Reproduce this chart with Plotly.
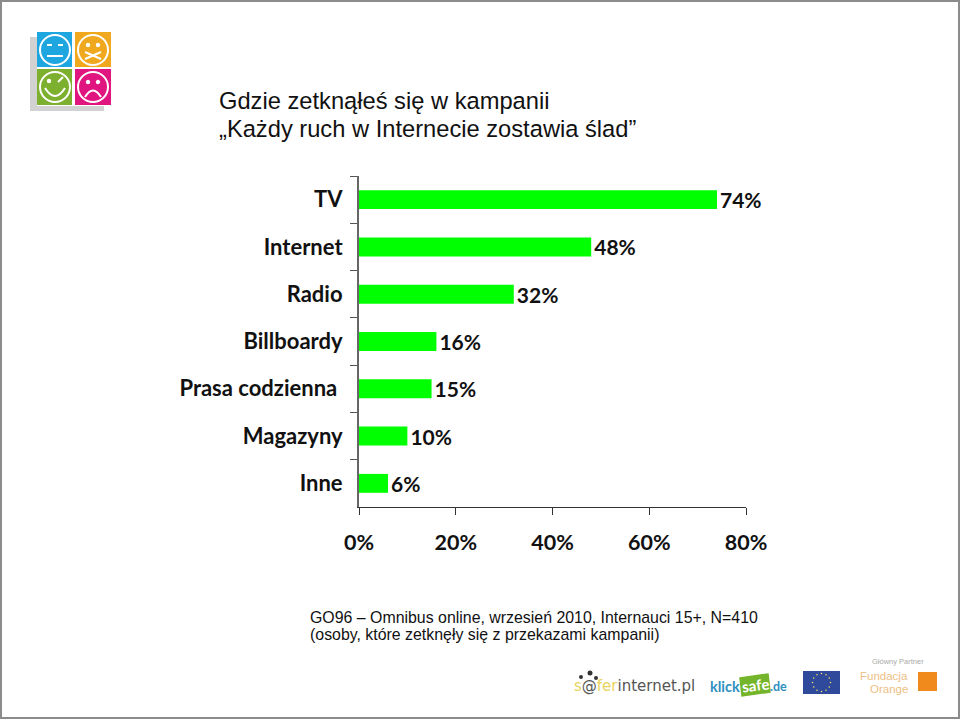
import plotly.graph_objects as go
import math

categories = ["TV", "Internet", "Radio", "Billboardy", "Prasa codzienna\u00a0", "Magazyny", "Inne"]
values = [74, 48, 32, 16, 15, 10, 6]
value_labels = ["74%", "48%", "32%", "16%", "15%", "10%", "6%"]
x_ticks = [0, 20, 40, 60, 80]
x_tick_labels = ["0%", "20%", "40%", "60%", "80%"]

title_lines = ["Gdzie zetknąłeś się w kampanii", "„Każdy ruch w Internecie zostawia ślad”"]
source_lines = ["GO96 – Omnibus online, wrzesień 2010, Internauci 15+, N=410",
                "(osoby, które zetknęły się z przekazami kampanii)"]

W, H = 960, 720
def X(p): return p / W
def Y(p): return 1 - p / H

fig = go.Figure(go.Bar(
    y=categories, x=values, orientation="h",
    marker=dict(color="#00FF00", line=dict(width=0)),
    text=value_labels, textposition="outside", cliponaxis=False, constraintext="none",
    textfont=dict(family="Lato", size=21, color="#111111", weight="bold"),
))

shapes = []
annos = []

def rect(x0, y0, x1, y1, fill, line=None, lw=0):
    shapes.append(dict(type="rect", xref="paper", yref="paper", x0=X(x0), x1=X(x1), y0=Y(y1), y1=Y(y0),
                       fillcolor=fill, line=dict(color=line or fill, width=lw), layer="above"))
def circ(cx, cy, r, fill="rgba(0,0,0,0)", line="white", lw=2):
    shapes.append(dict(type="circle", xref="paper", yref="paper", x0=X(cx-r), x1=X(cx+r), y0=Y(cy+r), y1=Y(cy-r),
                       fillcolor=fill, line=dict(color=line, width=lw), layer="above"))
def seg(x0, y0, x1, y1, color="white", lw=2):
    shapes.append(dict(type="line", xref="paper", yref="paper", x0=X(x0), x1=X(x1), y0=Y(y0), y1=Y(y1),
                       line=dict(color=color, width=lw), layer="above"))
def curve(x0, y0, cx, cy, x1, y1, color="white", lw=2):
    p = f"M {X(x0)} {Y(y0)} Q {X(cx)} {Y(cy)} {X(x1)} {Y(y1)}"
    shapes.append(dict(type="path", xref="paper", yref="paper", path=p, line=dict(color=color, width=lw), layer="above"))
def poly(points, fill):
    p = "M " + " L ".join(f"{X(a)} {Y(b)}" for a, b in points) + " Z"
    shapes.append(dict(type="path", xref="paper", yref="paper", path=p, fillcolor=fill, line=dict(color=fill, width=1.5), layer="above"))
def text(x, y, s, size, color, family="Liberation Sans", anchor="left", bold=False, angle=0):
    annos.append(dict(xref="paper", yref="paper", x=X(x), y=Y(y), text=s, showarrow=False, xanchor=anchor, yanchor="middle",
                      textangle=angle, align=anchor, borderpad=0, captureevents=False,
                      font=dict(family=family, size=size, color=color, weight="bold" if bold else "normal")))

# frame
rect(1, 1, 959, 718, "rgba(0,0,0,0)", "#8c8c8c", 2)

# titles and source note
text(218, 101, title_lines[0], 23.7, "#111111")
text(218, 129, title_lines[1], 23.7, "#111111")
text(309, 617, source_lines[0], 15.9, "#111111")
text(309, 634, source_lines[1], 15.9, "#111111")

# smiley logo
rect(30, 37, 37, 110, "#d2d2d2")
rect(30, 106, 104, 111, "#d2d2d2")
rect(37, 32, 72, 67, "#1DA6E0")
rect(75, 32, 111, 67, "#F0A81E")
rect(37, 69, 72, 105, "#7DB02E")
rect(75, 69, 111, 105, "#E0157F")
for cx, cy in [(55, 50), (93, 50), (55, 87), (93, 87)]:
    circ(cx, cy, 15)
seg(47, 45, 52, 45); seg(58, 45, 63, 45); seg(47, 56, 63, 56)
circ(88, 45, 1.2, "white"); circ(98, 45, 1.2, "white")
seg(85, 52, 101, 59); seg(85, 59, 101, 52)
circ(49, 81, 1.2, "white"); seg(58, 82, 63, 77)
curve(45, 88, 55, 104, 65, 88)
circ(88, 82, 1.2, "white"); circ(98, 82, 1.2, "white")
curve(85, 97, 93, 84, 101, 97)

# footer logos
for cx, cy, r in [(581, 677, 2), (590, 673, 2.5), (596, 678, 2)]:
    circ(cx, cy, r, "#333333", "#333333", 0)
text(573, 686, "<span style='color:#E8D35C'>s</span><span style='color:#555555'>@</span><span style='color:#E8D35C'>fer</span><span style='color:#555555'>internet.pl</span>", 15, "#555555", family="DejaVu Sans")
text(709, 686, "klick", 14.5, "#2E8FC0", family="Lato", bold=True)
poly([(740, 678), (768, 674), (770, 692), (742, 696)], "#74B52B")
text(755, 685, "safe", 15, "white", family="Lato", bold=True, anchor="center", angle=-7)
text(769, 686, ".de", 12.5, "#2E8FC0", family="Lato", bold=True)
rect(803, 671, 840, 694, "#2F4A9A")
for i in range(12):
    a = i * math.pi / 6
    circ(821.5 + 9 * math.cos(a), 682.5 + 9 * math.sin(a), 0.8, "#F2DE6A", "#F2DE6A", 0)
text(898, 661, "Główny Partner", 7.5, "#aaaaaa", anchor="center")
text(909, 676, "Fundacja", 11.5, "#EDBE85", anchor="right")
text(909, 689, "Orange", 11.5, "#EDBE85", anchor="right")
rect(918, 672, 937, 691, "#F08A1C")

fig.update_layout(
    width=W, height=H, autosize=False,
    margin=dict(l=0, r=0, t=0, b=0, pad=0, autoexpand=False),
    paper_bgcolor="white", plot_bgcolor="white",
    showlegend=False, bargap=0.6,
    shapes=shapes, annotations=annos,
    xaxis=dict(domain=[X(359), X(746)], range=[0, 80], tickmode="array", tickvals=x_ticks, ticktext=x_tick_labels,
               ticks="outside", ticklen=7, tickcolor="#333333", tickwidth=1, showline=True, linecolor="#333333", linewidth=1,
               showgrid=False, zeroline=False, ticklabelstandoff=9, automargin=False,
               tickfont=dict(family="Lato", size=21.5, color="#111111", weight="bold")),
    yaxis=dict(domain=[Y(507), Y(176)], range=[6.5, -0.5], categoryorder="array", categoryarray=categories,
               tickson="boundaries", ticks="outside", ticklen=7, tickcolor="#555555", tickwidth=1,
               showline=True, linecolor="#666666", linewidth=2, showgrid=False, zeroline=False, ticklabelstandoff=10, automargin=False,
               tickfont=dict(family="Lato", size=22, color="#111111", weight="bold")),
)

fig.write_html("out.html", config={"displayModeBar": False},
               post_script="document.body.style.margin='0';document.body.style.overflow='hidden';")
